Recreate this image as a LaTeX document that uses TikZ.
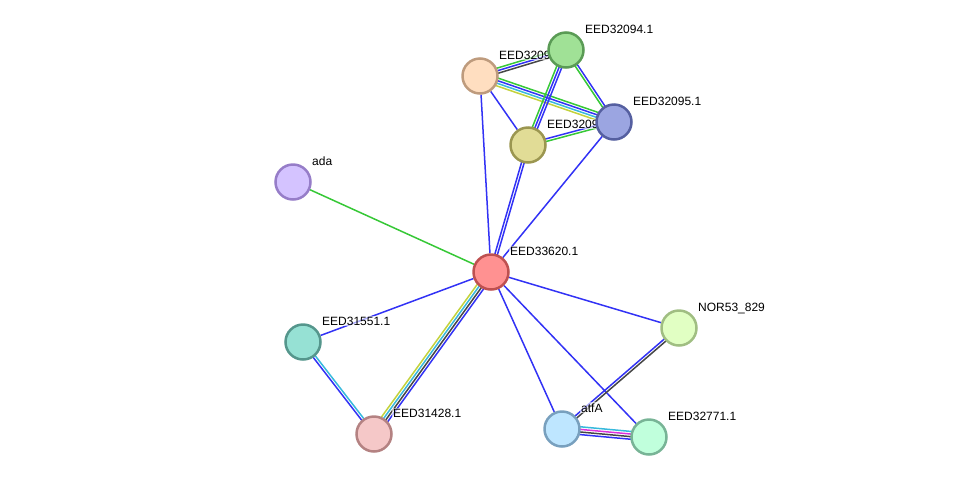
\documentclass[tikz,border=0pt]{standalone}
\usepackage{fontspec}
\setmainfont{Liberation Sans}
\usetikzlibrary{calc,backgrounds}

\definecolor{eblue}{RGB}{50,50,245}
\definecolor{egreen}{RGB}{55,200,55}
\definecolor{ecyan}{RGB}{55,185,220}
\definecolor{eyellow}{RGB}{195,210,60}
\definecolor{egray}{RGB}{70,70,70}
\definecolor{emagenta}{RGB}{220,50,220}

% parallel lines between two nodes, one per colour/offset pair
\newcommand{\bundle}[3]{%
  \foreach \col/\off in {#3}
    \draw[edge, color=\col] ($(#1.center)!\off!90:(#2.center)$) -- ($(#2.center)!\off!-90:(#1.center)$);
}

\begin{document}
\begin{tikzpicture}[x=1pt, y=-1pt]
		\tikzstyle{prot}=[draw,shape=circle,line width=2.5pt,minimum size=35pt,inner sep=0pt]
		\tikzstyle{tag}=[anchor=base west,inner sep=1pt,fill=white,fill opacity=0.6,text opacity=1,font=\fontsize{12}{14}\selectfont]
		\tikzstyle{edge}=[line width=1.5pt]
		\useasboundingbox (0,0) rectangle (976,483);

    % Centre protein
		\node[prot, fill={rgb,255:red,255;green,145;blue,145}, draw={rgb,255:red,190;green,80;blue,80}](n33620) at (491,272){};
		\node[tag](t33620) at ($(n33620)+(18,-17)$){EED33620.1};

    % Left side
		\node[prot, fill={rgb,255:red,212;green,195;blue,255}, draw={rgb,255:red,150;green,125;blue,200}](ada) at (293,182){};
		\node[tag](tada) at ($(ada)+(18,-17)$){ada};
		\node[prot, fill={rgb,255:red,150;green,225;blue,212}, draw={rgb,255:red,85;green,150;blue,140}](n31551) at (303,342){};
		\node[tag](t31551) at ($(n31551)+(18,-17)$){EED31551.1};
		\node[prot, fill={rgb,255:red,245;green,200;blue,200}, draw={rgb,255:red,180;green,130;blue,130}](n31428) at (374,434){};
		\node[tag](t31428) at ($(n31428)+(18,-17)$){EED31428.1};

    % Top cluster
		\node[prot, fill={rgb,255:red,255;green,222;blue,192}, draw={rgb,255:red,190;green,155;blue,125}](n3209a) at (480,76){};
		\node[tag](t3209a) at ($(n3209a)+(18,-17)$){EED3209};
		\node[prot, fill={rgb,255:red,225;green,220;blue,150}, draw={rgb,255:red,155;green,150;blue,80}](n3209b) at (528,145){};
		\node[tag](t3209b) at ($(n3209b)+(18,-17)$){EED3209};
		\node[prot, fill={rgb,255:red,160;green,225;blue,150}, draw={rgb,255:red,90;green,155;blue,85}](n32094) at (566,50){};
		\node[tag](t32094) at ($(n32094)+(18,-17)$){EED32094.1};
		\node[prot, fill={rgb,255:red,155;green,165;blue,225}, draw={rgb,255:red,85;green,95;blue,160}](n32095) at (614,122){};
		\node[tag](t32095) at ($(n32095)+(18,-17)$){EED32095.1};

    % Bottom right
		\node[prot, fill={rgb,255:red,225;green,255;blue,195}, draw={rgb,255:red,160;green,190;blue,130}](nor) at (679,328){};
		\node[tag](tnor) at ($(nor)+(18,-17)$){NOR53\_829};
		\node[prot, fill={rgb,255:red,190;green,230;blue,255}, draw={rgb,255:red,120;green,160;blue,190}](atfA) at (562,429){};
		\node[tag](tatfA) at ($(atfA)+(18,-17)$){atfA};
		\node[prot, fill={rgb,255:red,192;green,255;blue,220}, draw={rgb,255:red,120;green,180;blue,150}](n32771) at (649,437){};
		\node[tag](t32771) at ($(n32771)+(18,-17)$){EED32771.1};

    % Edges
		\begin{scope}[on background layer]
		\draw[edge,egreen] (n33620) -- (ada);
		\draw[edge,eblue] (n33620) -- (n3209a);
		\draw[edge,eblue] (n33620) -- (n32095);
		\draw[edge,eblue] (n33620) -- (n31551);
		\draw[edge,eblue] (n33620) -- (nor);
		\draw[edge,eblue] (n33620) -- (atfA);
		\draw[edge,eblue] (n33620) -- (n32771);
		\draw[edge,eblue] (n3209a) -- (n3209b);

		\bundle{n33620}{n3209b}{eblue/-1.3pt, eblue/1.3pt}
		\bundle{n33620}{n31428}{eyellow/-3.9pt, ecyan/-1.3pt, egray/1.3pt, eblue/3.9pt}
		\bundle{n31551}{n31428}{eblue/-1.3pt, ecyan/1.3pt}
		\bundle{nor}{atfA}{eblue/-1.3pt, egray/1.3pt}
		\bundle{atfA}{n32771}{eblue/-3.9pt, egray/-1.3pt, emagenta/1.3pt, ecyan/3.9pt}
		\bundle{n3209a}{n32094}{egray/-2.6pt, eblue/0pt, egreen/2.6pt}
		\bundle{n3209a}{n32095}{eyellow/-3.9pt, ecyan/-1.3pt, eblue/1.3pt, egreen/3.9pt}
		\bundle{n32094}{n3209b}{egreen/-2.6pt, eblue/0pt, eblue/2.6pt}
		\bundle{n32094}{n32095}{egreen/-1.3pt, eblue/1.3pt}
		\bundle{n3209b}{n32095}{egreen/-1.3pt, eblue/1.3pt}
		\end{scope}
\end{tikzpicture}
\end{document}
